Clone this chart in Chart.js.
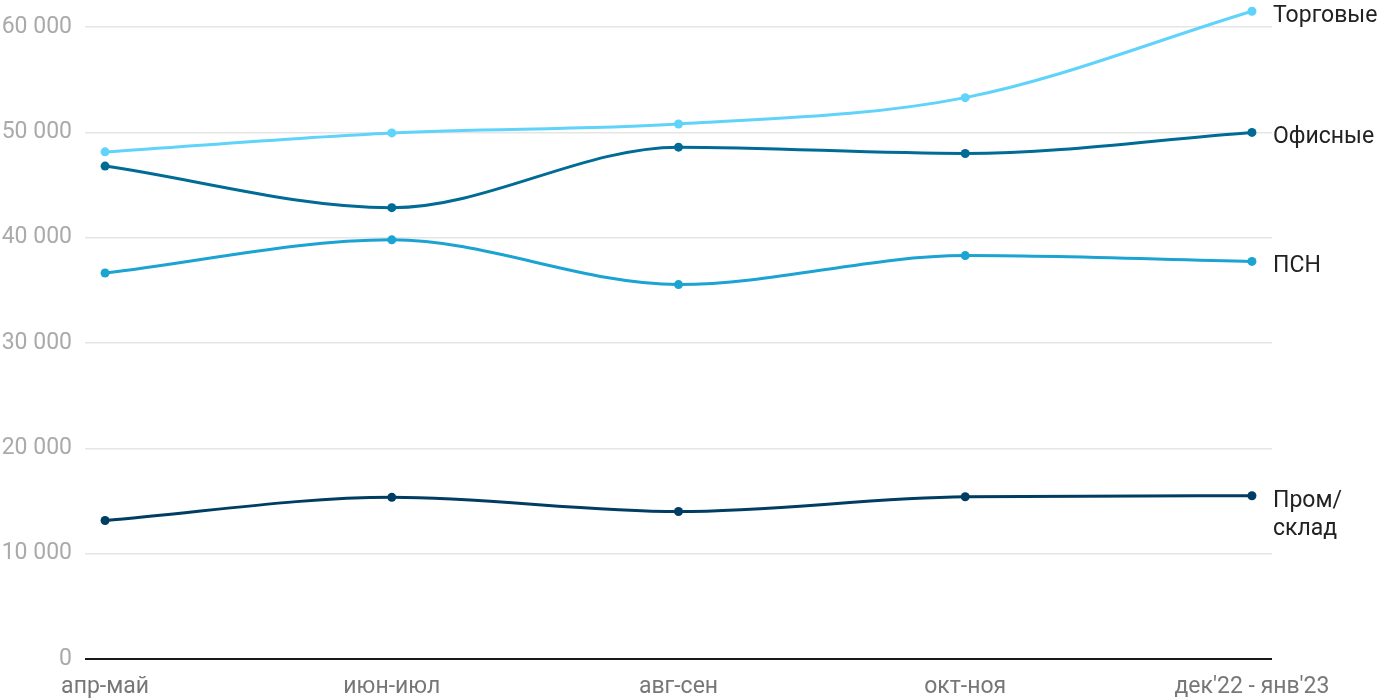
<!DOCTYPE html>
<html>
<head>
<meta charset="utf-8">
<script src="https://cdn.jsdelivr.net/npm/chart.js@4"></script>
<style>
  html, body { margin: 0; padding: 0; background: #fff; }
  #wrap { width: 1400px; height: 700px; position: relative; }
</style>
</head>
<body>
<div id="wrap"><canvas id="chart"></canvas></div>
<script>
const categories = ["апр-май", "июн-июл", "авг-сен", "окт-ноя", "дек'22 - янв'23"];
const trade = [48150, 49950, 50800, 53300, 61500];
const office = [46800, 42850, 48600, 48000, 50000];
const psn = [36650, 39800, 35550, 38300, 37750];
const industrial = [13150, 15350, 14000, 15400, 15500];
const yTicks = [0, 10000, 20000, 30000, 40000, 50000, 60000];

const seriesNames = ["Торговые", "Офисные", "ПСН", ["Пром/", "склад"]];
const seriesColors = ["#5fd3f9", "#006b94", "#1ba3d2", "#003d62"];

function toPoints(values) {
  return values.map((v, i) => ({ x: i, y: v }));
}

const fmt = (v) => v === 0 ? "0" : String(v).replace(/\B(?=(\d{3})+(?!\d))/g, " ");

// series names next to the last point
const endLabels = {
  id: "endLabels",
  afterDatasetsDraw(chart) {
    const ctx = chart.ctx;
    ctx.save();
    ctx.font = "23px Roboto";
    ctx.fillStyle = "#222";
    ctx.textAlign = "left";
    ctx.textBaseline = "middle";
    chart.data.datasets.forEach((ds, i) => {
      const meta = chart.getDatasetMeta(i);
      const pt = meta.data[meta.data.length - 1];
      const lines = Array.isArray(ds.label) ? ds.label : [ds.label];
      const lh = 28;
      const y0 = pt.y + 5;
      lines.forEach((ln, k) => {
        ctx.fillText(ln, chart.chartArea.right + 1, y0 + k * lh);
      });
    });
    ctx.restore();
  },
};

const datasets = [trade, office, psn, industrial].map((vals, i) => ({
  label: seriesNames[i],
  data: toPoints(vals),
  borderColor: seriesColors[i],
  backgroundColor: seriesColors[i],
  borderWidth: 3,
  pointRadius: 4.5,
  pointBorderWidth: 0,
  cubicInterpolationMode: "monotone",
  fill: false,
  clip: false,
}));

new Chart(document.getElementById("chart"), {
  type: "line",
  data: { datasets },
  plugins: [endLabels],
  options: {
    responsive: true,
    maintainAspectRatio: false,
    animation: false,
    layout: { padding: { top: 6, right: 128, left: 0, bottom: 0 } },
    plugins: { legend: { display: false }, tooltip: { enabled: false } },
    scales: {
      x: {
        type: "linear",
        min: -0.07,
        max: 4.07,
        afterBuildTicks: (s) => { s.ticks = categories.map((_, i) => ({ value: i })); },
        afterFit: (s) => { s.height = 41; s.paddingLeft = 0; s.paddingRight = 0; },
        ticks: {
          callback: (v) => categories[v],
          color: "#777",
          font: { family: "Roboto", size: 23 },
          padding: 6,
          maxRotation: 0,
          autoSkip: false,
        },
        grid: { display: false },
        border: { display: false },
      },
      y: {
        min: 0,
        max: 62000,
        afterBuildTicks: (s) => { s.ticks = yTicks.map((v) => ({ value: v })); },
        afterFit: (s) => { s.width = 85; s.paddingTop = 0; s.paddingBottom = 0; },
        ticks: {
          callback: (v) => fmt(v),
          color: "#aaa",
          font: { family: "Roboto", size: 23 },
          padding: 13,
        },
        grid: {
          drawTicks: false,
          color: (c) => c.tick && c.tick.value === 0 ? "#1a1a1a" : "#e5e5e5",
          lineWidth: (c) => c.tick && c.tick.value === 0 ? 2 : 1.5,
        },
        border: { display: false },
      },
    },
  },
});
</script>
</body>
</html>
